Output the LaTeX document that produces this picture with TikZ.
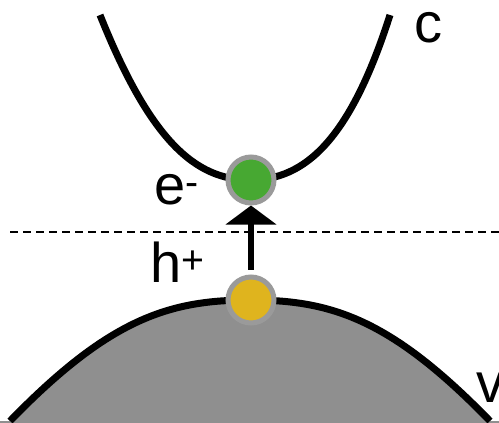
\documentclass[tikz,border=0pt]{standalone}
\usepackage{fontspec}
\setmainfont{Liberation Sans}
\usetikzlibrary{arrows.meta}
\definecolor{bandgray}{HTML}{8F8F8F}
\definecolor{ringgray}{HTML}{9A9A9A}
\definecolor{elecgreen}{HTML}{47A832}
\definecolor{holeyellow}{HTML}{DFB41E}

\begin{document}
\begin{tikzpicture}[
    x=1pt, y=-1pt,
    band/.style={line width=7pt},
    carrier/.style={circle, draw=ringgray, line width=5pt, minimum size=46pt, inner sep=0pt},
    every node/.style={font=\fontsize{56}{60}\selectfont, inner sep=0pt}
  ]
    \useasboundingbox (0,0) rectangle (499,423);
    % conduction band
    \draw[band] (100,15) .. controls (150,140) and (195,180) .. (250,180)
                         .. controls (305,180) and (350,140) .. (390,15);
    % valence band
    \fill[bandgray] (0,421) -- (10,421) .. controls (110,318) and (170,300) .. (250,300)
                    .. controls (330,300) and (390,318) .. (490,421) -- (499,421) -- (499,430) -- (0,430) -- cycle;
    \draw[band] (10,421) .. controls (110,318) and (170,300) .. (250,300)
                .. controls (330,300) and (390,318) .. (490,421);
    % fermi level
    \draw[line width=1.5pt, dash pattern=on 8pt off 5pt] (10,232) -- (499,232);
    \node[carrier, fill=elecgreen] (elec) at (251,180) {};
    \node[carrier, fill=holeyellow] (hole) at (251,300) {};
    \draw[line width=6pt, -{Triangle[width=50pt,length=19pt]}, shorten <=5pt] (hole) -- (elec);
    \node (c) at (428,28) {c};
    \node (v) at (490,388) {v};
    \node (e) at (177,190) {e\textsuperscript{-}};
    \node (h) at (178,262) {h\textsuperscript{+}};
  \end{tikzpicture}
\end{document}
